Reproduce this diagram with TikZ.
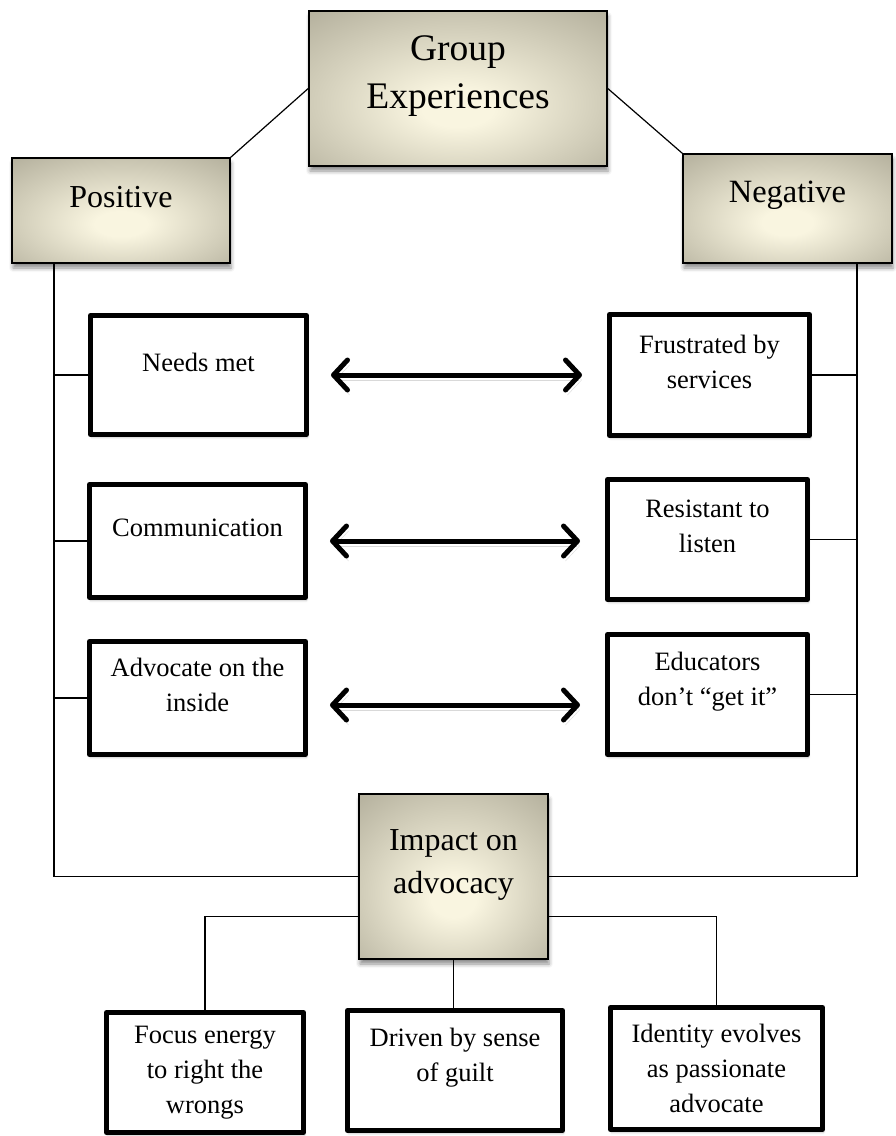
\documentclass[tikz,border=0pt]{standalone}
\usepackage{fontspec}
\setmainfont{Liberation Serif}
\usetikzlibrary{arrows.meta,shadows.blur}
\definecolor{glowcream}{HTML}{F9F5E0}
\definecolor{glowmid}{HTML}{ABA794}
\definecolor{glowedge}{HTML}{8A8778}
\pgfdeclareradialshading{boxglow}{\pgfpoint{0bp}{-7bp}}{color(0bp)=(glowcream); color(6bp)=(glowcream); color(42bp)=(glowmid); color(68bp)=(glowedge)}

\begin{document}
\begin{tikzpicture}[x=1pt, y=1pt,
        glowbox/.style={draw, line width=1.6pt, inner sep=0pt, shading=boxglow,
            blur shadow={shadow xshift=1pt, shadow yshift=-5pt, shadow blur radius=4pt, shadow opacity=45}},
        plainbox/.style={draw, line width=5pt, line join=round, fill=white, inner sep=0pt,
            blur shadow={shadow xshift=1pt, shadow yshift=-3pt, shadow blur radius=2pt, shadow opacity=25}},
        boxtext/.style={align=center, inner sep=0pt, font=\fontsize{26.5}{35}\selectfont},
        linker/.style={line width=1.2pt},
        twoway/.style={line width=5pt, line cap=round,
            {Straight Barb[length=14pt, width=30pt, line cap=round, line join=round]}-{Straight Barb[length=14pt, width=30pt, line cap=round, line join=round]},
            shorten <=22pt, shorten >=25pt,
            preaction={draw=black!15, transform canvas={shift={(2pt,-5pt)}}}}
    ]
    \useasboundingbox (0,0) rectangle (895,-1136);

    \node[glowbox, minimum width=298pt, minimum height=155pt] (group) at (458,-88.5) {};
    \node[glowbox, minimum width=218pt, minimum height=105pt] (positive) at (121,-210.5) {};
    \node[glowbox, minimum width=209pt, minimum height=109pt] (negative) at (787.5,-208.5) {};
    \node[glowbox, minimum width=189pt, minimum height=165pt] (impact) at (453.5,-876.5) {};

    \node[align=center, inner sep=0pt, font=\fontsize{37.5}{48}\selectfont] (group-t) at ([yshift=12pt]group.center) {Group\\Experiences};
    \node[inner sep=0pt, font=\fontsize{32}{36}\selectfont] (positive-t) at ([yshift=13pt]positive.center) {Positive};
    \node[inner sep=0pt, font=\fontsize{32.5}{36}\selectfont] (negative-t) at ([yshift=13pt]negative.center) {Negative};
    \node[align=center, inner sep=0pt, font=\fontsize{32}{43}\selectfont] (impact-t) at ([yshift=12pt]impact.center) {Impact on\\advocacy};

    \node[plainbox, minimum width=216pt, minimum height=119pt] (needs) at (198.5,-375) {};
    \node[plainbox, minimum width=200pt, minimum height=121pt] (frustr) at (709.5,-375) {};
    \node[plainbox, minimum width=216pt, minimum height=113pt] (comm) at (197.5,-541) {};
    \node[plainbox, minimum width=200pt, minimum height=120pt] (resist) at (707.5,-539.5) {};
    \node[plainbox, minimum width=216pt, minimum height=113pt] (advoc) at (197.5,-698) {};
    \node[plainbox, minimum width=200pt, minimum height=120pt] (educ) at (707.5,-694.5) {};
    \node[plainbox, minimum width=197pt, minimum height=120pt] (focus) at (205,-1072.5) {};
    \node[plainbox, minimum width=215pt, minimum height=120pt] (driven) at (455,-1070.5) {};
    \node[plainbox, minimum width=212pt, minimum height=122pt] (identity) at (716.5,-1068.5) {};

    \node[boxtext] (needs-t) at ([yshift=13pt]needs.center) {Needs met};
    \node[boxtext] (frustr-t) at ([yshift=13pt]frustr.center) {Frustrated by\\services};
    \node[boxtext] (comm-t) at ([yshift=13pt]comm.center) {Communication};
    \node[boxtext] (resist-t) at ([yshift=13pt]resist.center) {Resistant to\\listen};
    \node[boxtext] (advoc-t) at ([yshift=13pt]advoc.center) {Advocate on the\\inside};
    \node[boxtext] (educ-t) at ([yshift=13pt]educ.center) {Educators\\don’t “get it”};
    \node[boxtext] (focus-t) at (focus.center) {Focus energy\\to right the\\wrongs};
    \node[boxtext] (driven-t) at ([yshift=13pt]driven.center) {Driven by sense\\of guilt};
    \node[boxtext] (identity-t) at (identity.center) {Identity evolves\\as passionate\\advocate};

    \coordinate (lrail) at (54,0);
    \coordinate (rrail) at (857,0);

    \draw[linker] (group.west) -- (positive.north east);
    \draw[linker] (group.east) -- (negative.north west);
    \draw[linker] (positive.south -| lrail) |- (impact.west);
    \draw[linker] (negative.south -| rrail) |- (impact.east);
    \foreach \b in {needs, comm, advoc}
        \draw[linker] (\b.west) -- (\b.west -| lrail);
    \foreach \b in {frustr, resist, educ}
        \draw[linker] (\b.east) -- (\b.east -| rrail);

    \draw[twoway] (needs.east) -- (needs.east -| frustr.west);
    \draw[twoway] (comm.east) -- (comm.east -| resist.west);
    \draw[twoway] ([yshift=-7pt]advoc.east) -- ([yshift=-7pt]advoc.east -| educ.west);

    \draw[linker] ([yshift=43pt]impact.south west) -| (focus.north);
    \draw[linker] ([yshift=43pt]impact.south east) -| (identity.north);
    \draw[linker] (impact.south) -- (impact.south |- driven.north);
\end{tikzpicture}
\end{document}
